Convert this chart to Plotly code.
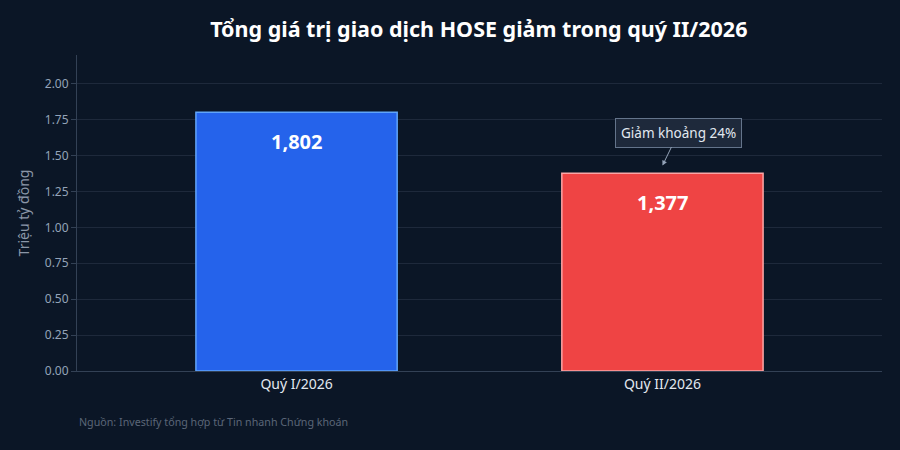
import plotly.graph_objects as go

categories = ["Quý I/2026", "Quý II/2026"]
values = [1.802, 1.377]
labels = ["1,802", "1,377"]
fill_colors = ["#2563EB", "#EF4444"]
line_colors = ["#60A5FA", "#FCA5A5"]
tick_vals = [0, 0.25, 0.5, 0.75, 1.0, 1.25, 1.5, 1.75, 2.0]
tick_text = ["0.00", "0.25", "0.50", "0.75", "1.00", "1.25", "1.50", "1.75", "2.00"]

BG = "#0B1626"
FONT = "Noto Sans"

fig = go.Figure()
fig.add_trace(go.Bar(
    x=categories, y=values,
    marker=dict(color=fill_colors, line=dict(color=line_colors, width=1.5)),
    width=0.55, hoverinfo="skip",
))

for cat, val, lab in zip(categories, values, labels):
    fig.add_annotation(
        x=cat, y=val, xref="x", yref="y", text=f"<b>{lab}</b>", showarrow=False,
        yshift=-29, yanchor="middle",
        font=dict(family=FONT, size=20, color="#FFFFFF"),
    )

fig.update_layout(
    width=900, height=450,
    paper_bgcolor=BG, plot_bgcolor=BG,
    margin=dict(l=77, r=18, t=55, b=79),
    showlegend=False,
    font=dict(family=FONT, color="#94A3B8"),
    title=dict(text="<b>Tổng giá trị giao dịch HOSE giảm trong quý II/2026</b>",
               x=0.532, xanchor="center", y=0.935, yanchor="middle",
               font=dict(family=FONT, size=21.5, color="#FFFFFF")),
    xaxis=dict(range=[-0.6, 1.6], showgrid=False, showline=True,
               linecolor="#334155", linewidth=1,
               tickfont=dict(family=FONT, size=14, color="#E2E8F0"), ticks=""),
    yaxis=dict(range=[0, 2.2], tickvals=tick_vals, ticktext=tick_text,
               gridcolor="#1E293B", gridwidth=1, zeroline=False,
               showline=True, linecolor="#334155", linewidth=1,
               ticks="outside", tickcolor="#334155", ticklen=5,
               tickfont=dict(family=FONT, size=12, color="#94A3B8"),
               title=dict(text="Triệu tỷ đồng", standoff=11,
                          font=dict(family=FONT, size=14, color="#8B96A8"))),
)

fig.add_annotation(
    x=categories[1], y=1.43, xref="x", yref="y",
    text="Giảm khoảng 24%", showarrow=True, arrowhead=2, arrowsize=1,
    arrowwidth=1, arrowcolor="#94A3B8", ax=16, ay=-33,
    font=dict(family=FONT, size=13.5, color="#E2E8F0"),
    bgcolor="#1E293B", bordercolor="#64748B", borderwidth=1, borderpad=5,
)

fig.add_annotation(
    x=0, y=-0.16, xref="paper", yref="paper", xanchor="left", yanchor="middle",
    text="Nguồn: Investify tổng hợp từ Tin nhanh Chứng khoán", showarrow=False,
    font=dict(family=FONT, size=10.7, color="#5B6678"),
)

fig.write_html("out.html")
